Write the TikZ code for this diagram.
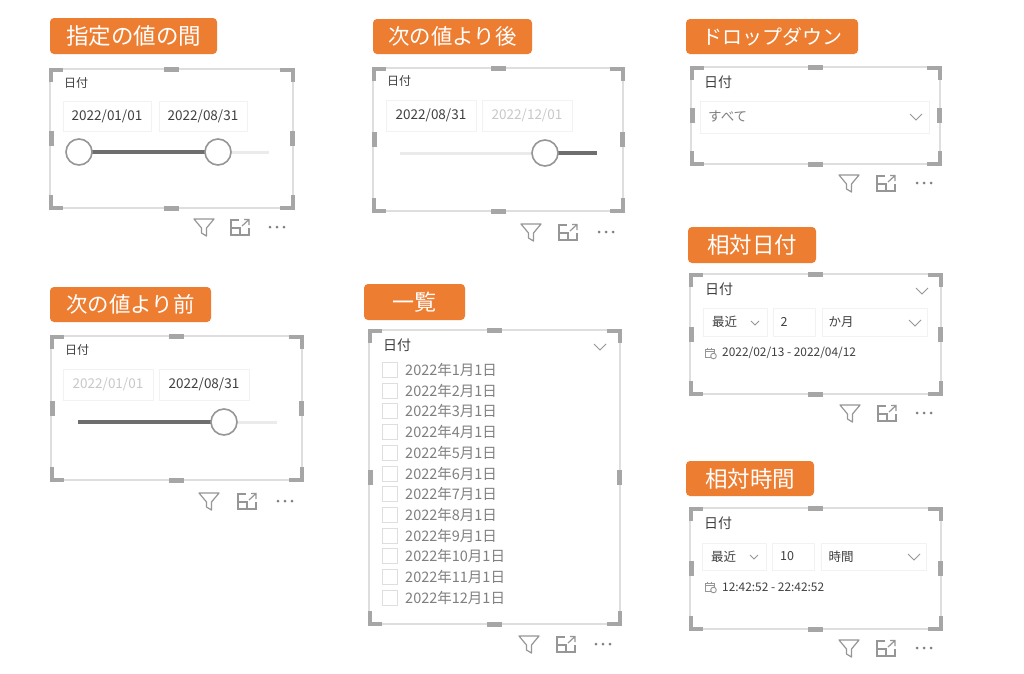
\documentclass[tikz,border=0pt]{standalone}
\usepackage{fontspec}
\setmainfont{Noto Sans CJK JP}
\definecolor{orangelab}{HTML}{ED7D31}
\definecolor{framegray}{HTML}{DEDEDE}
\definecolor{handlegray}{HTML}{A6A6A6}
\definecolor{boxgray}{HTML}{F2F2F2}
\definecolor{textdark}{HTML}{404040}
\definecolor{textmid}{HTML}{7F7F7F}
\definecolor{textlight}{HTML}{C8C8C8}
\definecolor{icongray}{HTML}{969696}
\definecolor{trackdark}{HTML}{6E6E6E}
\definecolor{tracklight}{HTML}{EBEBEB}
\newcommand{\fs}[1]{\fontsize{#1}{#1}\selectfont}
\tikzset{
  x=1pt,y=-1pt,
  lab/.style={fill=orangelab,rounded corners=4pt,text=white,inner sep=0pt,align=center},
  vframe/.style={draw=framegray,line width=1.2pt},
  corner/.style={draw=handlegray,line width=4pt},
  handleh/.style={fill=handlegray,draw=none,minimum width=15pt,minimum height=5pt,inner sep=0pt},
  handlev/.style={fill=handlegray,draw=none,minimum width=5pt,minimum height=15pt,inner sep=0pt},
  field/.style={draw=boxgray,line width=1pt,fill=white,inner sep=0pt},
  dtext/.style={text=textdark,inner sep=0pt,anchor=center},
  chev/.style={draw=icongray,line width=.9pt},
  icon/.style={draw=icongray,line width=1.2pt},
  knob/.style={circle,draw=icongray,line width=1.6pt,fill=white,minimum size=26pt,inner sep=0pt},
}
% label box: name, x0,y0,x1,y1,font size,text
\newcommand{\labbox}[7]{\node[lab,font=\fs{#6},minimum width=#4pt-#2pt,minimum height=#5pt-#3pt] (#1) at ({(#2+#4)/2},{(#3+#5)/2}) {\raisebox{-1pt}{#7}};}
% frame: x0,y0,x1,y1, filter x, icons y, expand x, dots x
\newcommand{\vis}[8]{%
  \draw[vframe] (#1,#2) rectangle (#3,#4);
  \draw[corner] (#1+.5,#2+13) -- (#1+.5,#2+.5) -- (#1+13,#2+.5);
  \draw[corner] (#3-13,#2+.5) -- (#3-.5,#2+.5) -- (#3-.5,#2+13);
  \draw[corner] (#1+.5,#4-13) -- (#1+.5,#4-.5) -- (#1+13,#4-.5);
  \draw[corner] (#3-13,#4-.5) -- (#3-.5,#4-.5) -- (#3-.5,#4-13);
  \node[handleh] at ({(#1+#3)/2},#2) {};
  \node[handleh] at ({(#1+#3)/2},#4) {};
  \node[handlev] at (#1+1,{(#2+#4)/2}) {};
  \node[handlev] at (#3-1,{(#2+#4)/2}) {};
  \draw[icon,line join=round] (#5-10,#6-8) -- (#5+10,#6-8) -- (#5+2.5,#6+1) -- (#5+2.5,#6+9) -- (#5-2.5,#6+6) -- (#5-2.5,#6+1) -- cycle;
  \draw[icon] (#7-1,#6-7) -- (#7-9,#6-7) -- (#7-9,#6+8) -- (#7+9,#6+8) -- (#7+9,#6+1);
  \draw[icon] (#7-9,#6+1) -- (#7,#6+1) -- (#7,#6+8);
  \draw[icon] (#7+2,#6-1) -- (#7+9,#6-7.5) (#7+4,#6-7.5) -- (#7+9,#6-7.5) -- (#7+9,#6-2);
  \fill[textmid] (#8-7,#6) circle (1.5) (#8,#6) circle (1.5) (#8+7,#6) circle (1.5);
}
\newcommand{\chevron}[2]{\draw[chev] (#1-6,#2-3) -- (#1,#2+3) -- (#1+6,#2-3);}
\newcommand{\smallchevron}[2]{\draw[chev] (#1-4,#2-2) -- (#1,#2+2) -- (#1+4,#2-2);}
% field: name,x0,y0,x1,y1,text,colour
\newcommand{\datefield}[7]{\node[field,minimum width=#4pt-#2pt,minimum height=#5pt-#3pt,text=#7,font=\fs{13.5}] (#1) at ({(#2+#4)/2},{(#3+#5)/2}) {#6};}
\newcommand{\calicon}[2]{%
  \draw[icon,line width=.9pt] (#1+4,#2+4) -- (#1-5,#2+4) -- (#1-5,#2-4) -- (#1+4,#2-4) -- (#1+4,#2);
  \draw[icon,line width=.9pt] (#1-5,#2-1.5) -- (#1+4,#2-1.5) (#1-2.5,#2-5.5) -- (#1-2.5,#2-3) (#1+1.5,#2-5.5) -- (#1+1.5,#2-3);
  \draw[icon,line width=.9pt,fill=white] (#1+3.5,#2+3) circle (2.8);
}
\begin{document}
\begin{tikzpicture}
\useasboundingbox (0,0) rectangle (1024,673);
\fill[white] (0,0) rectangle (1024,673);

% ---- between
\labbox{labA}{50}{18}{217}{54}{22.5}{指定の値の間}
\vis{50}{69}{293}{208}{204}{227}{240}{277}
\node[dtext,font=\fs{12}] (titleA) at (76,83) {日付};
\datefield{fromA}{63}{101}{151}{131}{2022/01/01}{textdark}
\datefield{toA}{159}{101}{247}{131}{2022/08/31}{textdark}
\draw[tracklight,line width=3pt] (218,152) -- (269,152);
\draw[trackdark,line width=3.2pt] (79,152) -- (218,152);
\node[knob] (k1A) at (79,152) {};
\node[knob] (k2A) at (218,152) {};

% ---- after
\labbox{labB}{373}{19}{532}{54}{21.4}{次の値より後}
\vis{373}{68}{623}{211}{531}{232}{568}{606}
\node[dtext,font=\fs{12}] (titleB) at (399,81) {日付};
\datefield{fromB}{386}{100}{476}{131}{2022/08/31}{textdark}
\datefield{toB}{482}{100}{572}{131}{2022/12/01}{textlight}
\draw[tracklight,line width=3pt] (400,153) -- (545,153);
\draw[trackdark,line width=3.2pt] (545,153) -- (597,153);
\node[knob] (k1B) at (545,153) {};

% ---- before
\labbox{labC}{50}{287}{211}{322}{21.4}{次の値より前}
\vis{51}{336}{302}{480}{209}{501}{247}{285}
\node[dtext,font=\fs{12}] (titleC) at (77,350) {日付};
\datefield{fromC}{63}{369}{153}{400}{2022/01/01}{textlight}
\datefield{toC}{159}{369}{249}{400}{2022/08/31}{textdark}
\draw[tracklight,line width=3pt] (224,422) -- (277,422);
\draw[trackdark,line width=3.2pt] (78,422) -- (224,422);
\node[knob] (k1C) at (224,422) {};

% ---- dropdown
\labbox{labD}{686}{19}{858}{54}{20}{ドロップダウン}
\vis{691}{67}{940}{164}{849}{183}{886}{924}
\node[dtext,font=\fs{14}] (titleD) at (718,82) {日付};
\node[field,minimum width=229pt,minimum height=32pt] (fieldD) at (814.5,117) {};
\node[text=textmid,font=\fs{13.5},inner sep=0pt,anchor=west] (valD) at (708,117) {すべて};
\chevron{916}{117}

% ---- relative date
\labbox{labE}{688}{227}{816}{263}{22.5}{相対日付}
\vis{690}{274}{941}{394}{850}{413}{887}{924}
\node[dtext,font=\fs{14}] (titleE) at (719,289) {日付};
\chevron{922}{291}
\node[field,minimum width=64pt,minimum height=28pt] (f1E) at (735,322) {};
\node[field,minimum width=42pt,minimum height=28pt] (f2E) at (794,322) {};
\node[field,minimum width=105pt,minimum height=28pt] (f3E) at (874.5,322) {};
\node[dtext,font=\fs{12.5}] (v1E) at (724.5,322) {最近};
\smallchevron{755}{323}
\node[dtext,font=\fs{12.5}] (v2E) at (784,322) {2};
\node[dtext,font=\fs{12.5}] (v3E) at (841,322) {か月};
\chevron{915}{323}
\calicon{710}{353}
\node[dtext,font=\fs{11.9},anchor=west] (rangeE) at (722,353) {2022/02/13 - 2022/04/12};

% ---- relative time
\labbox{labF}{686}{461}{814}{496}{22.5}{相対時間}
\vis{690}{508}{941}{629}{849}{648}{886}{924}
\node[dtext,font=\fs{14}] (titleF) at (718,523) {日付};
\node[field,minimum width=64pt,minimum height=27pt] (f1F) at (734,556.5) {};
\node[field,minimum width=42pt,minimum height=27pt] (f2F) at (793,556.5) {};
\node[field,minimum width=105pt,minimum height=27pt] (f3F) at (873.5,556.5) {};
\node[dtext,font=\fs{12.5}] (v1F) at (723.5,556.5) {最近};
\smallchevron{754}{557}
\node[dtext,font=\fs{12.5}] (v2F) at (787,556.5) {10};
\node[dtext,font=\fs{12.5}] (v3F) at (841,556.5) {時間};
\chevron{914}{557}
\calicon{710}{587}
\node[dtext,font=\fs{11.9},anchor=west] (rangeF) at (722,587) {12:42:52 - 22:42:52};

% ---- list
\labbox{labG}{364}{284}{465}{320}{22}{一覧}
\vis{369}{330}{620}{624}{529}{644}{566}{603}
\node[dtext,font=\fs{14}] (titleG) at (397,345) {日付};
\chevron{600}{347}
\foreach \n/\t in {0/2022年1月1日,1/2022年2月1日,2/2022年3月1日,3/2022年4月1日,4/2022年5月1日,5/2022年6月1日,6/2022年7月1日,7/2022年8月1日,8/2022年9月1日,9/2022年10月1日,10/2022年11月1日,11/2022年12月1日}{
  \node[draw=framegray,line width=.9pt,minimum size=15pt,inner sep=0pt] (cb\n) at (389.5,370+20.7*\n) {};
  \node[text=textmid,font=\fs{14.5},inner sep=0pt,anchor=west] (item\n) at (405,370+20.7*\n) {\t};
}
\end{tikzpicture}
\end{document}
